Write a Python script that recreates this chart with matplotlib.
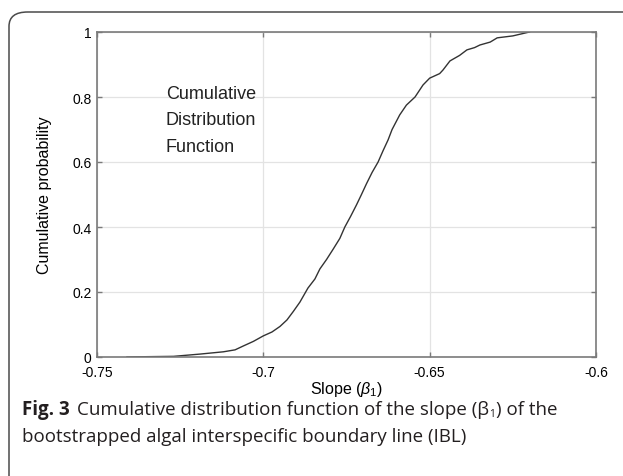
import matplotlib
matplotlib.use("Agg")
import matplotlib.pyplot as plt
from matplotlib.patches import FancyBboxPatch
import numpy as np

# ---- data ----
slope_values = [-0.7410, -0.7350, -0.7270, -0.7190, -0.7120, -0.7085, -0.7060,
                -0.7030, -0.7000, -0.6974, -0.6950, -0.6929, -0.6910, -0.6890,
                -0.6866, -0.6845, -0.6830, -0.6810, -0.6790, -0.6770, -0.6755,
                -0.6738, -0.6720, -0.6705, -0.6690, -0.6673, -0.6655, -0.6640,
                -0.6625, -0.6613, -0.6590, -0.6570, -0.6544, -0.6520, -0.6500,
                -0.6470, -0.6460, -0.6439, -0.6410, -0.6388, -0.6365, -0.6349,
                -0.6318, -0.6297, -0.6250, -0.6200]
cum_prob = [0.000, 0.001, 0.002, 0.009, 0.016, 0.022, 0.034,
            0.048, 0.065, 0.077, 0.094, 0.114, 0.140, 0.169,
            0.212, 0.240, 0.271, 0.300, 0.332, 0.365, 0.400,
            0.432, 0.468, 0.500, 0.533, 0.568, 0.600, 0.635,
            0.668, 0.700, 0.745, 0.775, 0.800, 0.837, 0.858,
            0.872, 0.883, 0.911, 0.928, 0.945, 0.952, 0.960,
            0.969, 0.982, 0.988, 1.000]

x_ticks = [-0.75, -0.7, -0.65, -0.6]
x_tick_labels = ["-0.75", "-0.7", "-0.65", "-0.6"]
y_ticks = [0, 0.2, 0.4, 0.6, 0.8, 1]
y_tick_labels = ["0", "0.2", "0.4", "0.6", "0.8", "1"]

W, H = 623, 477
plt.rcParams['mathtext.fontset'] = 'custom'
plt.rcParams['mathtext.rm'] = 'Liberation Sans'
plt.rcParams['mathtext.it'] = 'Liberation Sans:italic'
chart_font = ['Liberation Sans', 'DejaVu Sans']
cap_font = ['Open Sans', 'Noto Sans', 'DejaVu Sans']

fig = plt.figure(figsize=(W / 100, H / 100), dpi=100)

# outer rounded frame (open to right and bottom)
frame = FancyBboxPatch((9 / W, -0.2), 1.2, (H - 13) / H + 0.2,
                       boxstyle="round,pad=0,rounding_size=0.03",
                       transform=fig.transFigure, fill=False,
                       edgecolor='#4a4a4a', linewidth=1.1, clip_on=False)
fig.patches.append(frame)

ax = fig.add_axes([97 / W, (H - 358) / H, (596 - 97) / W, (358 - 33) / H])
ax.plot(slope_values, cum_prob, color='#333333', linewidth=1.0)
ax.set_xlim(-0.75, -0.6)
ax.set_ylim(0, 1)
ax.set_xticks(x_ticks)
ax.set_xticklabels(x_tick_labels, fontfamily=chart_font, fontsize=10)
ax.set_yticks(y_ticks)
ax.set_yticklabels(y_tick_labels, fontfamily=chart_font, fontsize=10)
ax.grid(True, color='#e3e3e3', linewidth=0.9)
ax.set_axisbelow(True)
for s in ax.spines.values():
    s.set_color('#7a7a7a')
    s.set_linewidth(1.2)
ax.tick_params(direction='in', length=3.5, width=1.0, color='#7a7a7a',
               top=True, right=True, labelcolor='black')
ax.tick_params(axis='x', pad=5.5)
ax.tick_params(axis='y', pad=4)

ax.set_ylabel('Cumulative probability', fontfamily=chart_font, fontsize=11.5,
              labelpad=14.5)
ax.set_xlabel(r'Slope ($\beta_1$)', fontfamily=chart_font, fontsize=11.5,
              labelpad=0)

ax.text(0.138, 0.838, 'Cumulative\nDistribution\nFunction', transform=ax.transAxes,
        fontfamily=chart_font, fontsize=13, va='top', ha='left',
        linespacing=1.75, color='#222222')

# caption
renderer = fig.canvas.get_renderer()
cap_size = 13.5
y1 = 1 - 410 / H
y2 = 1 - 437 / H
t_bold = fig.text(22 / W, y1, 'Fig. 3', fontfamily=cap_font, fontweight='bold',
                  fontsize=cap_size, va='center', ha='left', color='#231f20')
bb = t_bold.get_window_extent(renderer)
x_next = bb.x1 / W + 7 / W
t_reg = fig.text(x_next, y1, 'Cumulative distribution function of the slope (\u03b2',
                 fontfamily=cap_font, fontsize=cap_size, va='center', ha='left',
                 color='#231f20')
bb = t_reg.get_window_extent(renderer)
t_sub = fig.text(bb.x1 / W, y1 - 5 / H, '1', fontfamily=cap_font,
                 fontsize=cap_size * 0.55, va='center', ha='left', color='#231f20')
bb = t_sub.get_window_extent(renderer)
fig.text(bb.x1 / W + 1 / W, y1, ') of the', fontfamily=cap_font, fontsize=cap_size,
         va='center', ha='left', color='#231f20')
fig.text(22 / W, y2, 'bootstrapped algal interspecific boundary line (IBL)',
         fontfamily=cap_font, fontsize=cap_size, va='center', ha='left',
         color='#231f20')

fig.savefig('out.png', dpi=100)
